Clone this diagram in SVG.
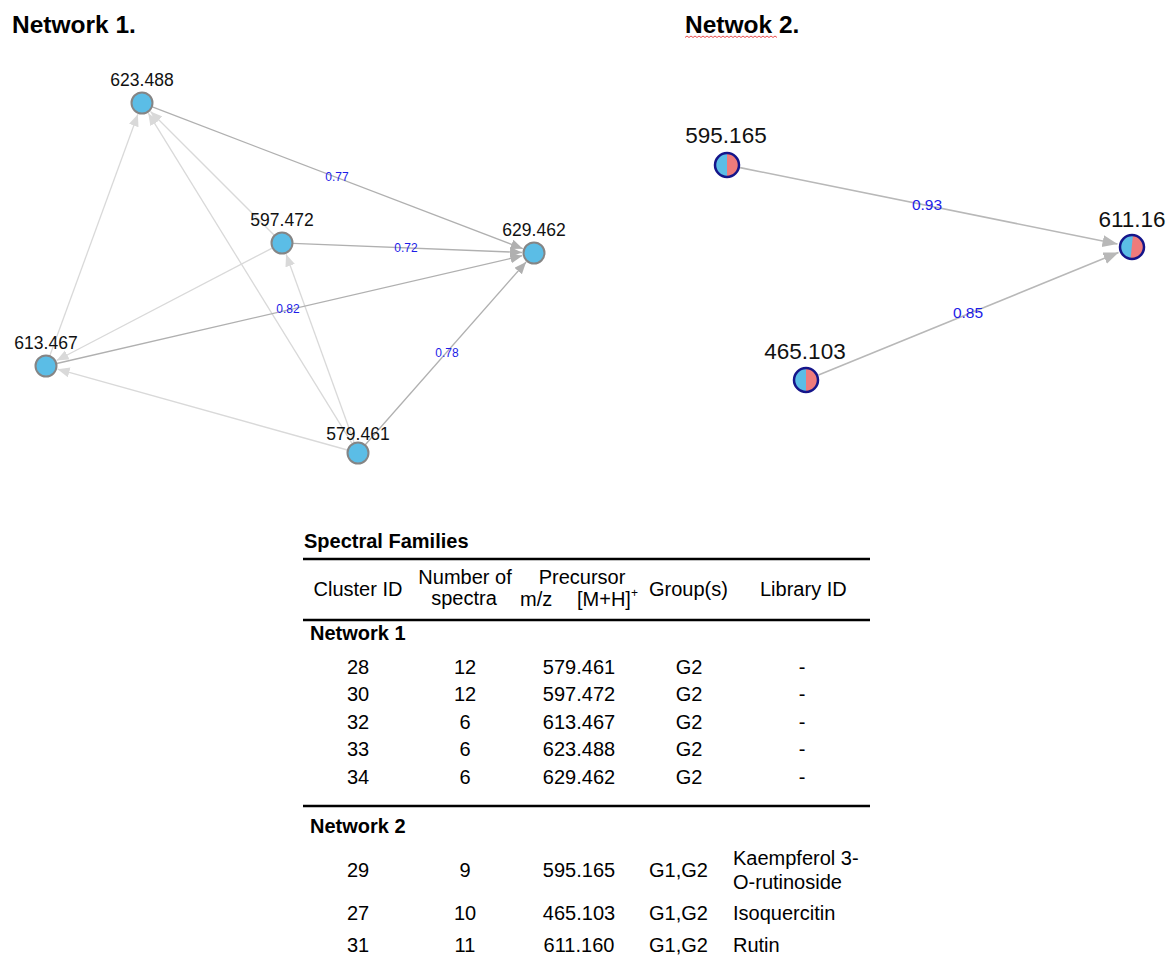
<svg xmlns="http://www.w3.org/2000/svg" width="1167" height="957" viewBox="0 0 1167 957">
  <style>
    .title { font-family: "Liberation Sans", Arial, sans-serif; font-weight: bold; font-size: 24.5px; fill: #000; }
    .lbl1 { font-family: "Liberation Sans", Arial, sans-serif; font-size: 17.5px; fill: #111; text-anchor: middle; }
    .lbl2 { font-family: "Liberation Sans", Arial, sans-serif; font-size: 22.5px; fill: #111; text-anchor: middle; }
    .elbl1 { font-family: "Liberation Sans", Arial, sans-serif; font-size: 12px; fill: #1c1ce8; text-anchor: middle; }
    .elbl2 { font-family: "Liberation Sans", Arial, sans-serif; font-size: 15.5px; fill: #1c1ce8; text-anchor: middle; }
    .n1 { fill: #5bbde6; stroke: #858585; stroke-width: 2; }
    .e-dark { stroke: #b0b0b0; stroke-width: 1.3; fill: none; marker-end: url(#arrDark); }
    .e-light { stroke: #d9d9d9; stroke-width: 1.3; fill: none; marker-end: url(#arrLight); }
    .e-n2 { stroke: #b8b8b8; stroke-width: 1.6; fill: none; marker-end: url(#arrN2); }
    .t { font-family: "Liberation Sans", Arial, sans-serif; font-size: 20px; fill: #000; }
    .tc { text-anchor: middle; }
    .tb { font-weight: bold; }
    .rule { stroke: #000; stroke-width: 2.5; }
  </style>
  <defs>
    <marker id="arrDark" markerUnits="userSpaceOnUse" markerWidth="14" markerHeight="12" refX="12" refY="5" orient="auto">
      <path d="M0,0 L12,5 L0,10 z" fill="#b0b0b0"/>
    </marker>
    <marker id="arrLight" markerUnits="userSpaceOnUse" markerWidth="14" markerHeight="12" refX="12" refY="5" orient="auto">
      <path d="M0,0 L12,5 L0,10 z" fill="#d9d9d9"/>
    </marker>
    <marker id="arrN2" markerUnits="userSpaceOnUse" markerWidth="17" markerHeight="14" refX="15" refY="6" orient="auto">
      <path d="M0,0 L15,6 L0,12 z" fill="#b8b8b8"/>
    </marker>
  </defs>

  <rect width="1167" height="957" fill="#fff"/>

  <!-- Titles -->
  <text class="title" x="12" y="33">Network 1.</text>
  <text class="title" x="685" y="33">Netwok 2.</text>
  <path d="M685,37.5 l2,-1.5 l2,1.5 l2,-1.5 l2,1.5 l2,-1.5 l2,1.5 l2,-1.5 l2,1.5 l2,-1.5 l2,1.5 l2,-1.5 l2,1.5 l2,-1.5 l2,1.5 l2,-1.5 l2,1.5 l2,-1.5 l2,1.5 l2,-1.5 l2,1.5 l2,-1.5 l2,1.5 l2,-1.5 l2,1.5 l2,-1.5 l2,1.5 l2,-1.5 l2,1.5 l2,-1.5 l2,1.5 l2,-1.5 l2,1.5 l2,-1.5 l2,1.5 l2,-1.5 l2,1.5 l2,-1.5 l2,1.5 l2,-1.5 l2,1.5 l2,-1.5 l2,1.5 l2,-1.5 l2,1.5 l2,-1.5 l2,1.5" fill="none" stroke="#e83a3a" stroke-width="0.9"/>

  <!-- Network 1 connectors -->
  <g id="connectors-network1">
    <line class="e-light" x1="49.8" y1="355.7" x2="137.9" y2="114.3"/>
    <line class="e-light" x1="352.2" y1="443.6" x2="148.3" y2="113.2"/>
    <line class="e-light" x1="274.2" y1="235.2" x2="150.5" y2="111.5"/>
    <line class="e-light" x1="272.2" y1="248.1" x2="56.6" y2="360.5"/>
    <line class="e-light" x1="354.3" y1="442.7" x2="286.1" y2="254.3"/>
    <line class="e-light" x1="347.4" y1="450" x2="57.6" y2="369.2"/>
    <line class="e-dark" x1="152.3" y1="106.9" x2="522.8" y2="248.7"/>
    <line class="e-dark" x1="293" y1="243.4" x2="522" y2="252.5"/>
    <line class="e-dark" x1="56.7" y1="363.5" x2="522.3" y2="255.7"/>
    <line class="e-dark" x1="365.3" y1="444.7" x2="526.1" y2="262"/>
    <text class="elbl1" x="337" y="181">0.77</text>
    <text class="elbl1" x="406" y="252">0.72</text>
    <text class="elbl1" x="288" y="313">0.82</text>
    <text class="elbl1" x="447" y="357">0.78</text>
  </g>

  <!-- Network 1 nodes -->
  <g id="node-623488">
    <circle class="n1" cx="142" cy="103" r="10.5"/>
    <text class="lbl1" x="142" y="86">623.488</text>
  </g>
  <g id="node-597472">
    <circle class="n1" cx="282" cy="243" r="10.5"/>
    <text class="lbl1" x="282" y="226">597.472</text>
  </g>
  <g id="node-629462">
    <circle class="n1" cx="534" cy="253" r="10.5"/>
    <text class="lbl1" x="534" y="236">629.462</text>
  </g>
  <g id="node-613467">
    <circle class="n1" cx="46" cy="366" r="10.5"/>
    <text class="lbl1" x="46" y="349">613.467</text>
  </g>
  <g id="node-579461">
    <circle class="n1" cx="358" cy="453" r="10.5"/>
    <text class="lbl1" x="358" y="440">579.461</text>
  </g>

  <!-- Network 2 connectors -->
  <g id="connectors-network2">
    <line class="e-n2" x1="740" y1="167.6" x2="1117.5" y2="244"/>
    <line class="e-n2" x1="818.5" y1="375" x2="1118.5" y2="252.5"/>
    <text class="elbl2" x="927" y="210">0.93</text>
    <text class="elbl2" x="968" y="318">0.85</text>
  </g>

  <!-- Network 2 nodes: two-group pie (G1 blue / G2 salmon) -->
  <g id="node-595165">
    <circle cx="727" cy="165" r="12" fill="#ef7b7b"/>
    <path d="M727,153 A12,12 0 0 0 727,177 Z" fill="#5bbde6"/>
    <circle cx="727" cy="165" r="12" fill="none" stroke="#15158a" stroke-width="2.5"/>
    <text class="lbl2" x="726" y="143">595.165</text>
  </g>
  <g id="node-61116">
    <circle cx="1132" cy="247" r="12" fill="#ef7b7b"/>
    <path d="M1133,235 L1130.5,259 A12,12 0 0 1 1133,235 Z" fill="#5bbde6"/>
    <circle cx="1132" cy="247" r="12" fill="none" stroke="#15158a" stroke-width="2.5"/>
    <text class="lbl2" x="1132" y="227">611.16</text>
  </g>
  <g id="node-465103">
    <circle cx="806" cy="380" r="12" fill="#ef7b7b"/>
    <path d="M806,368 A12,12 0 0 0 806,392 Z" fill="#5bbde6"/>
    <circle cx="806" cy="380" r="12" fill="none" stroke="#15158a" stroke-width="2.5"/>
    <text class="lbl2" x="805" y="359">465.103</text>
  </g>

  <!-- Spectral families table -->
  <g id="table">
    <text class="t tb" x="304" y="548">Spectral Families</text>
    <line class="rule" x1="303" y1="559" x2="870" y2="559"/>

    <text class="t tc" x="358" y="596">Cluster ID</text>
    <text class="t tc" x="465" y="584">Number of</text>
    <text class="t tc" x="464" y="605">spectra</text>
    <text class="t tc" x="582" y="584">Precursor</text>
    <text class="t" x="520" y="606">m/z</text>
    <text class="t" x="577" y="606">[M+H]<tspan font-size="12" dy="-9">+</tspan></text>
    <text class="t" x="649" y="596">Group(s)</text>
    <text class="t" x="760" y="596">Library ID</text>
    <line class="rule" x1="303" y1="620" x2="870" y2="620"/>

    <text class="t tb" x="310" y="640">Network 1</text>
    <g class="t tc">
      <text x="358" y="674">28</text><text x="465" y="674">12</text><text x="579" y="674">579.461</text><text x="689" y="674">G2</text><text x="802" y="674">-</text>
      <text x="358" y="701">30</text><text x="465" y="701">12</text><text x="579" y="701">597.472</text><text x="689" y="701">G2</text><text x="802" y="701">-</text>
      <text x="358" y="729">32</text><text x="465" y="729">6</text><text x="579" y="729">613.467</text><text x="689" y="729">G2</text><text x="802" y="729">-</text>
      <text x="358" y="756">33</text><text x="465" y="756">6</text><text x="579" y="756">623.488</text><text x="689" y="756">G2</text><text x="802" y="756">-</text>
      <text x="358" y="784">34</text><text x="465" y="784">6</text><text x="579" y="784">629.462</text><text x="689" y="784">G2</text><text x="802" y="784">-</text>
    </g>
    <line class="rule" x1="303" y1="806" x2="870" y2="806"/>

    <text class="t tb" x="310" y="833">Network 2</text>
    <g class="t tc">
      <text x="358" y="877">29</text><text x="465" y="877">9</text><text x="579" y="877">595.165</text>
      <text x="358" y="920">27</text><text x="465" y="920">10</text><text x="579" y="920">465.103</text>
      <text x="358" y="952">31</text><text x="465" y="952">11</text><text x="579" y="952">611.160</text>
    </g>
    <g class="t">
      <text x="649" y="877">G1,G2</text><text x="733" y="865">Kaempferol 3-</text><text x="733" y="889">O-rutinoside</text>
      <text x="649" y="920">G1,G2</text><text x="733" y="920">Isoquercitin</text>
      <text x="649" y="952">G1,G2</text><text x="733" y="952">Rutin</text>
    </g>
  </g>
</svg>
